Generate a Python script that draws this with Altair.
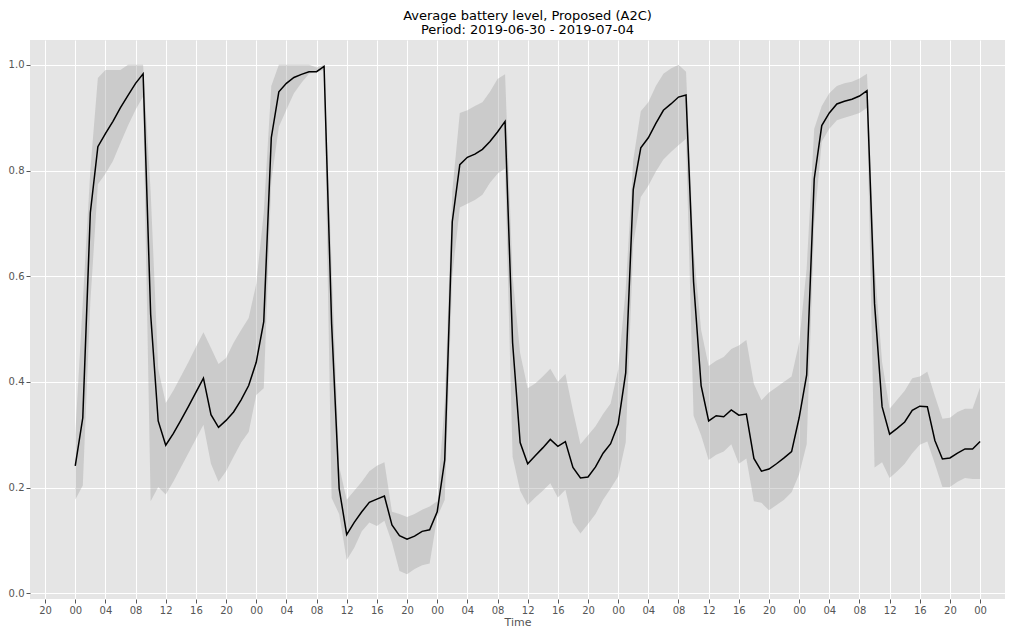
import altair as alt
import pandas as pd

mean = [0.241, 0.332, 0.720, 0.845, 0.870, 0.893, 0.919, 0.942, 0.965, 0.983,
        0.528, 0.326, 0.280, 0.302, 0.327, 0.353, 0.380, 0.407, 0.338, 0.314,
        0.327, 0.343, 0.366, 0.393, 0.437, 0.514, 0.862, 0.949, 0.965, 0.976,
        0.982, 0.987, 0.987, 0.997, 0.510, 0.198, 0.111, 0.134, 0.154, 0.172,
        0.178, 0.184, 0.129, 0.109, 0.102, 0.108, 0.117, 0.120, 0.154, 0.252,
        0.703, 0.811, 0.825, 0.831, 0.840, 0.855, 0.873, 0.893, 0.474, 0.285,
        0.245, 0.260, 0.275, 0.291, 0.278, 0.287, 0.238, 0.218, 0.220, 0.239,
        0.265, 0.283, 0.320, 0.417, 0.764, 0.843, 0.862, 0.889, 0.914, 0.926,
        0.939, 0.943, 0.589, 0.393, 0.326, 0.336, 0.334, 0.347, 0.337, 0.339,
        0.255, 0.231, 0.235, 0.245, 0.256, 0.268, 0.332, 0.413, 0.784, 0.885,
        0.909, 0.926, 0.931, 0.935, 0.941, 0.951, 0.548, 0.353, 0.301, 0.312,
        0.324, 0.346, 0.354, 0.353, 0.289, 0.254, 0.256, 0.265, 0.273, 0.273,
        0.287]

upper = [0.300, 0.550, 0.800, 0.975, 0.990, 0.990, 0.990, 1.000, 1.000, 1.000,
         0.760, 0.425, 0.360, 0.383, 0.410, 0.437, 0.466, 0.494, 0.464, 0.434,
         0.445, 0.474, 0.498, 0.521, 0.585, 0.720, 0.960, 1.000, 1.000, 1.000,
         1.000, 1.000, 0.995, 1.000, 0.620, 0.240, 0.177, 0.194, 0.211, 0.231,
         0.241, 0.248, 0.154, 0.150, 0.144, 0.150, 0.158, 0.164, 0.174, 0.360,
         0.760, 0.909, 0.914, 0.922, 0.929, 0.949, 0.973, 0.982, 0.600, 0.454,
         0.388, 0.397, 0.410, 0.425, 0.400, 0.415, 0.346, 0.282, 0.299, 0.316,
         0.339, 0.359, 0.423, 0.575, 0.820, 0.912, 0.929, 0.960, 0.983, 0.993,
         1.000, 0.987, 0.650, 0.498, 0.430, 0.440, 0.447, 0.462, 0.469, 0.479,
         0.396, 0.365, 0.380, 0.390, 0.400, 0.410, 0.474, 0.615, 0.879, 0.922,
         0.946, 0.960, 0.965, 0.968, 0.974, 0.983, 0.620, 0.437, 0.349, 0.366,
         0.383, 0.407, 0.410, 0.419, 0.373, 0.330, 0.332, 0.343, 0.349, 0.349,
         0.390]

lower = [0.177, 0.204, 0.550, 0.774, 0.794, 0.818, 0.852, 0.885, 0.915, 0.940,
         0.174, 0.201, 0.187, 0.211, 0.238, 0.265, 0.292, 0.319, 0.245, 0.211,
         0.231, 0.258, 0.285, 0.305, 0.375, 0.388, 0.780, 0.883, 0.915, 0.946,
         0.966, 0.983, 0.987, 0.990, 0.180, 0.150, 0.063, 0.086, 0.117, 0.134,
         0.127, 0.137, 0.096, 0.042, 0.036, 0.046, 0.053, 0.056, 0.144, 0.177,
         0.600, 0.730, 0.737, 0.744, 0.754, 0.777, 0.794, 0.804, 0.258, 0.194,
         0.167, 0.181, 0.194, 0.208, 0.181, 0.196, 0.134, 0.113, 0.131, 0.150,
         0.177, 0.198, 0.221, 0.285, 0.660, 0.750, 0.771, 0.798, 0.821, 0.835,
         0.848, 0.860, 0.336, 0.299, 0.252, 0.262, 0.268, 0.282, 0.245, 0.255,
         0.174, 0.171, 0.157, 0.167, 0.177, 0.191, 0.225, 0.282, 0.700, 0.855,
         0.879, 0.895, 0.900, 0.904, 0.909, 0.919, 0.238, 0.248, 0.218, 0.231,
         0.245, 0.265, 0.281, 0.287, 0.245, 0.201, 0.201, 0.211, 0.218, 0.216,
         0.216]

# hours since 2019-06-30 00:00
hours = list(range(len(mean)))
tick_hours = list(range(-4, 124, 4))
y_ticks = [0.0, 0.2, 0.4, 0.6, 0.8, 1.0]

df = pd.DataFrame({"hour": hours, "mean": mean, "upper": upper, "lower": lower})

x_scale = alt.Scale(domain=[-6, 123.3], nice=False, zero=False)
y_scale = alt.Scale(domain=[-0.011, 1.047], nice=False, zero=False)

hod = "(((datum.value % 24) + 24) % 24)"
x_axis = alt.Axis(
    title="Time", values=tick_hours, tickCount=100,
    labelExpr=f"{hod} < 10 ? '0' + {hod} : '' + {hod}",
    labelFlush=False, labelOverlap=False, labelBound=False,
)
y_axis = alt.Axis(title=None, values=y_ticks, format=".1f", tickCount=20)

band = alt.Chart(df).mark_area(color="#9a9a9a", opacity=0.35).encode(
    x=alt.X("hour:Q", scale=x_scale, axis=x_axis),
    y=alt.Y("lower:Q", scale=y_scale, axis=y_axis),
    y2="upper:Q",
)

line = alt.Chart(df).mark_line(color="black", strokeWidth=1.5).encode(
    x=alt.X("hour:Q", scale=x_scale),
    y=alt.Y("mean:Q", scale=y_scale),
)

chart = (band + line).properties(
    width=975,
    height=559,
    title=alt.TitleParams(
        text=["Average battery level, Proposed (A2C)", "Period: 2019-06-30 - 2019-07-04"],
        font="DejaVu Sans", fontSize=13, fontWeight="normal", color="black",
        anchor="middle", offset=3, lineHeight=14, dx=10,
    ),
    autosize=alt.AutoSizeParams(type="none"),
    padding={"left": 22, "top": 32, "right": 0, "bottom": 28},
).configure_view(
    fill="#E5E5E5", stroke=None
).configure_axis(
    labelFont="DejaVu Sans", labelFontSize=10, labelColor="#555555",
    titleFont="DejaVu Sans", titleFontSize=11, titleColor="#555555", titleFontWeight="normal",
    tickColor="#555555", tickSize=4, labelPadding=2,
    domain=False, grid=True, gridColor="white", gridWidth=1, gridOpacity=1,
).configure_axisX(titlePadding=1)

chart.save("out.html", embed_options={"renderer": "svg", "actions": False})
